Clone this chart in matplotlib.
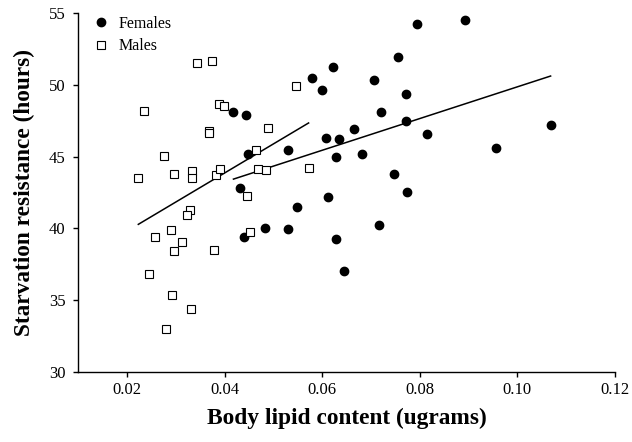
import numpy as np
import matplotlib
matplotlib.use("Agg")
import matplotlib.pyplot as plt

# Females
fem_x = [0.0418, 0.0444, 0.0448, 0.0431, 0.0439, 0.0483,
         0.0794, 0.0893, 0.0621, 0.0756, 0.0580, 0.0706, 0.0600, 0.0771,
         0.0721, 0.0772, 0.0815, 0.0665, 0.0607, 0.0635, 0.0530, 0.0628,
         0.0682, 0.0747, 0.0774, 0.0611, 0.0549, 0.0529, 0.0717, 0.0628,
         0.0644, 0.1068, 0.0956]
fem_y = [48.14, 47.89, 45.17, 42.84, 39.38, 40.03,
         54.25, 54.55, 51.28, 51.93, 50.49, 50.37, 49.65, 49.37,
         48.14, 47.51, 46.56, 46.91, 46.32, 46.23, 45.49, 45.00,
         45.21, 43.81, 42.56, 42.17, 41.51, 39.94, 40.26, 39.24,
         37.03, 47.21, 45.63]

# Males
mal_x = [0.0344, 0.0375, 0.0235, 0.0389, 0.0399, 0.0488, 0.0368, 0.0367,
         0.0465, 0.0275, 0.0223, 0.0297, 0.0334, 0.0333, 0.0383, 0.0391,
         0.0468, 0.0485, 0.0446, 0.0328, 0.0323, 0.0257, 0.0289, 0.0312,
         0.0297, 0.0379, 0.0451, 0.0244, 0.0293, 0.0331, 0.0280, 0.0546,
         0.0572]
mal_y = [51.56, 51.65, 48.21, 48.65, 48.51, 46.98, 46.79, 46.63,
         45.45, 45.07, 43.49, 43.77, 44.02, 43.54, 43.72, 44.12,
         44.12, 44.05, 42.26, 41.26, 40.96, 39.42, 39.87, 39.03,
         38.40, 38.49, 39.75, 36.82, 35.33, 34.40, 32.96, 49.91,
         44.23]

# Regression fits (slope, intercept)
fem_fit = (110.6, 38.81)
mal_fit = (202.6, 35.76)

x_ticks = [0.02, 0.04, 0.06, 0.08, 0.10, 0.12]
y_ticks = [30, 35, 40, 45, 50, 55]

serif = ["Liberation Serif", "DejaVu Serif"]
plt.rcParams["font.family"] = serif

fig = plt.figure(figsize=(6.32, 4.42), dpi=100)
ax = fig.add_axes([0.1239, 0.159, 0.8492, 0.811])

fx = np.array(fem_x); fy = np.array(fem_y)
mx = np.array(mal_x); my = np.array(mal_y)

ax.plot(fx, fy, "o", color="black", markersize=6, label="Females", zorder=3)
ax.plot(mx, my, "s", markerfacecolor="white", markeredgecolor="black",
        markeredgewidth=0.8, markersize=5.5, label="Males", zorder=3)

for xs, (k, b) in ((mx, mal_fit), (fx, fem_fit)):
    xx = np.array([xs.min(), xs.max()])
    ax.plot(xx, k * xx + b, color="black", linewidth=1.1, zorder=2)

ax.set_xlim(0.01, 0.12)
ax.set_ylim(30, 55)
ax.set_xticks(x_ticks)
ax.set_xticklabels(["%.2f" % v for v in x_ticks])
ax.set_yticks(y_ticks)
ax.tick_params(direction="out", length=3.6, width=1, labelsize=12)
ax.tick_params(axis="x", pad=4)
ax.tick_params(axis="y", pad=5.5)
for s in ("top", "right"):
    ax.spines[s].set_visible(False)
for s in ("left", "bottom"):
    ax.spines[s].set_linewidth(1)

ax.set_xlabel("Body lipid content (ugrams)", fontsize=16.8, fontweight="bold", labelpad=7)
ax.set_ylabel("Starvation resistance (hours)", fontsize=16.8, fontweight="bold", labelpad=10)

ax.legend(loc="upper left", frameon=False, fontsize=11.5, handlelength=1.0,
          handletextpad=0.6, borderaxespad=0.0, labelspacing=0.4,
          bbox_to_anchor=(0.016, 1.01))

fig.savefig("out.png", dpi=100)
